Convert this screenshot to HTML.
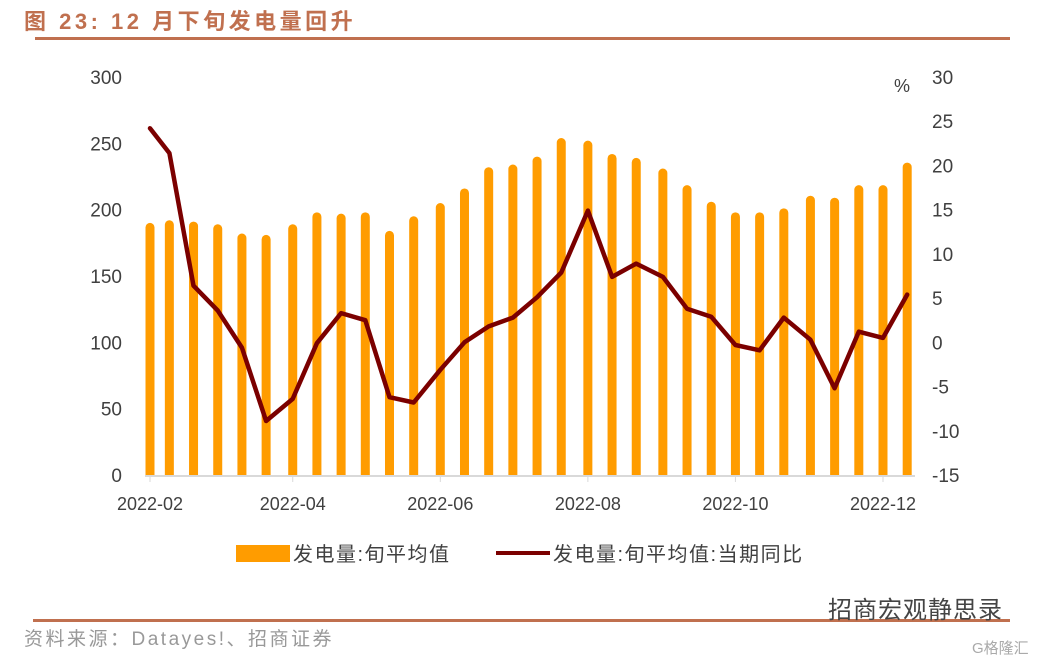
<!DOCTYPE html>
<html><head><meta charset="utf-8">
<style>
body{margin:0;background:#fff;width:1041px;height:661px;overflow:hidden;font-family:"Liberation Sans","Noto Sans CJK SC",sans-serif;}
svg{position:absolute;left:0;top:0}
</style></head>
<body>
<svg width="1041" height="661" id="chart">
<text x="24" y="29" font-size="22" font-weight="bold" fill="#c0704f" letter-spacing="3.5" font-family="Liberation Sans, Noto Sans CJK SC, sans-serif">图 23:  12 月下旬发电量回升</text>
<rect x="35" y="37" width="975" height="3" fill="#c0704f"/>
<rect x="33" y="619" width="977" height="3" fill="#c0704f"/>
<text x="24" y="645" font-size="19" fill="#999" letter-spacing="2.5">资料来源：Datayes!、招商证券</text>
<text x="828" y="618" font-size="24" fill="#444" letter-spacing="1">招商宏观静思录</text>
<text x="972" y="653" font-size="15" fill="#aaa">G格隆汇</text>
<g id="plot"></g>
<text x="894" y="92" font-size="18" fill="#404040">%</text>
<g>
<rect x="236" y="545" width="54" height="17" fill="#ff9c00"/>
<text x="293" y="561" font-size="20" fill="#404040" letter-spacing="1.5">发电量:旬平均值</text>
<line x1="496" y1="553" x2="550" y2="553" stroke="#7b0000" stroke-width="4"/>
<text x="553" y="561" font-size="20" fill="#404040" letter-spacing="1.5">发电量:旬平均值:当期同比</text>
</g>
</svg>
<script>
const dates=["2022-02-01","2022-02-09","2022-02-19","2022-03-01","2022-03-11","2022-03-21","2022-04-01","2022-04-11","2022-04-21","2022-05-01","2022-05-11","2022-05-21","2022-06-01","2022-06-11","2022-06-21","2022-07-01","2022-07-11","2022-07-21","2022-08-01","2022-08-11","2022-08-21","2022-09-01","2022-09-11","2022-09-21","2022-10-01","2022-10-11","2022-10-21","2022-11-01","2022-11-11","2022-11-21","2022-12-01","2022-12-11"];
const power=[190,192,191,189,182,181,189,198,197,198,184,195,205,216,232,234,240,254,252,242,239,231,218.5,206,198,198,201,210.5,209,218.5,218.5,235.5];
const yoy=[24.2,21.4,6.4,3.6,-0.6,-8.9,-6.4,-0.1,3.3,2.5,-6.2,-6.8,-3.1,0,1.8,2.8,5.1,7.9,14.9,7.4,8.9,7.4,3.8,2.9,-0.3,-0.9,2.8,0.3,-5.2,1.2,0.5,5.4];
const leftTicks=[0,50,100,150,200,250,300];
const rightTicks=[-15,-10,-5,0,5,10,15,20,25,30];
const xTicks=["2022-02","2022-04","2022-06","2022-08","2022-10","2022-12"];

const NS="http://www.w3.org/2000/svg";
const g=document.getElementById('plot');
const t0=Date.parse("2022-02-01"),t1=Date.parse("2022-12-01");
function x(d){return 150+(Date.parse(d)-t0)/(t1-t0)*(883-150);}
function yL(v){return 475-v*(398/300);}
function yR(v){return 475-(v+15)*(398/45);}
function mk(tag,attrs){const e=document.createElementNS(NS,tag);for(const k in attrs)e.setAttribute(k,attrs[k]);g.appendChild(e);return e;}

leftTicks.forEach(v=>{const t=mk('text',{x:122,y:yL(v)+7,'font-size':19,fill:'#404040','text-anchor':'end'});t.textContent=v;

});
rightTicks.forEach(v=>{const t=mk('text',{x:932,y:yR(v)+7,'font-size':19,fill:'#404040'});t.textContent=v;

});
power.forEach((v,i)=>{const cx=x(dates[i]);const top=yL(v);
const b=mk('path',{d:`M${cx-4.5},475 L${cx-4.5},${top+4.5} A4.5,4.5 0 0 1 ${cx+4.5},${top+4.5} L${cx+4.5},475 Z`,fill:'#ff9c00'});

});
const ax=mk('line',{x1:145,y1:476,x2:915,y2:476,stroke:'#d9d9d9','stroke-width':2});


xTicks.forEach(d=>{const xx=x(d+"-01");mk('line',{x1:xx,y1:476,x2:xx,y2:482,stroke:'#d9d9d9','stroke-width':1});
const t=mk('text',{x:xx,y:510,'font-size':18,fill:'#404040','text-anchor':'middle'});t.textContent=d;

});
const pts=yoy.map((v,i)=>x(dates[i]).toFixed(1)+","+yR(v).toFixed(1)).join(" ");
const ln=mk('polyline',{points:pts,fill:'none',stroke:'#7b0000','stroke-width':4.5,'stroke-linejoin':'round','stroke-linecap':'round'});


</script>
</body></html>
